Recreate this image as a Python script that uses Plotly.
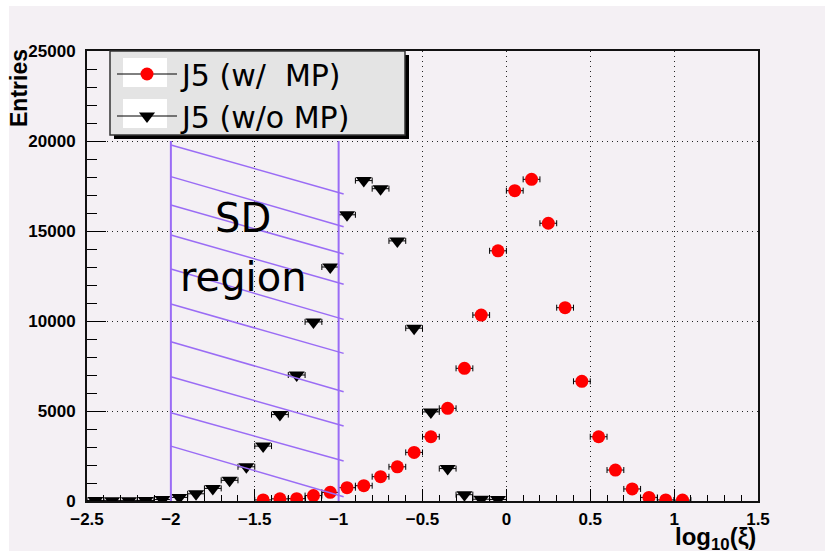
import plotly.graph_objects as go

# ---- data ----
x_wo = [-2.45, -2.35, -2.25, -2.15, -2.05, -1.95, -1.85, -1.75, -1.65, -1.55,
        -1.45, -1.35, -1.25, -1.15, -1.05, -0.95, -0.85, -0.75, -0.65, -0.55,
        -0.45, -0.35, -0.25, -0.15, -0.05]
y_wo = [30, 20, 20, 30, 80, 200, 400, 700, 1150, 1900,
        3050, 4800, 7000, 9950, 13000, 15900, 17800, 17350, 14450, 9600,
        4950, 1800, 350, 100, 80]

x_w = [-1.45, -1.35, -1.25, -1.15, -1.05, -0.95, -0.85, -0.75, -0.65, -0.55,
       -0.45, -0.35, -0.25, -0.15, -0.05, 0.05, 0.15, 0.25, 0.35, 0.45,
       0.55, 0.65, 0.75, 0.85, 0.95, 1.05]
y_w = [60, 120, 130, 300, 480, 740, 850, 1350, 1900, 2700,
       3570, 5150, 7370, 10330, 13900, 17240, 17870, 15430, 10740, 6650,
       3570, 1720, 670, 200, 60, 50]

half_bin = 0.05

# SD region (hatched band)
sd_x = [-2.0, -1.0]
sd_top = 20000
hatch_y_left = [19780, 18020, 16440, 14780, 12890, 10940, 8850, 6900, 4900, 3050]
hatch_y_right = [17060, 15240, 13720, 12040, 10090, 8200, 6070, 4170, 2220, 240]

names = ["J5 (w/&nbsp;&nbsp;MP)", "J5 (w/o MP)"]

BG = "#f4f0f4"
PURPLE = "#9a6cf5"
W, H = 825, 551
L, R, T, B = 87, 758, 51, 501


def px_x(p):
    return (p - L) / (R - L)


def px_y(p):
    return (B - p) / (B - T)


fig = go.Figure()

fig.add_trace(go.Scatter(
    x=x_wo, y=y_wo, mode="markers", showlegend=False,
    marker=dict(symbol="triangle-down", color="black", size=14),
    error_x=dict(type="constant", value=half_bin, color="black", thickness=1, width=3),
))
fig.add_trace(go.Scatter(
    x=x_w, y=y_w, mode="markers", showlegend=False,
    marker=dict(symbol="circle", color="#ff0000", size=13),
    error_x=dict(type="constant", value=half_bin, color="black", thickness=1, width=3),
))

# legend-only entries (line through marker, as in the original)
fig.add_trace(go.Scatter(
    x=[None], y=[None], mode="lines+markers", name=names[0],
    line=dict(color="black", width=1),
    marker=dict(symbol="circle", color="#ff0000", size=13),
))
fig.add_trace(go.Scatter(
    x=[None], y=[None], mode="lines+markers", name=names[1],
    line=dict(color="black", width=1),
    marker=dict(symbol="triangle-down", color="black", size=14),
))

shapes = []
# white strips on the top and left edges of the canvas
shapes.append(dict(type="rect", xref="paper", yref="paper",
                   x0=px_x(0), x1=px_x(9), y0=px_y(W), y1=px_y(0),
                   fillcolor="white", line=dict(width=0), layer="below"))
shapes.append(dict(type="rect", xref="paper", yref="paper",
                   x0=px_x(0), x1=px_x(W), y0=px_y(6), y1=px_y(0),
                   fillcolor="white", line=dict(width=0), layer="below"))

# SD region boundaries
for xv in sd_x:
    shapes.append(dict(type="line", xref="x", yref="y", x0=xv, x1=xv, y0=0, y1=sd_top,
                       line=dict(color=PURPLE, width=2)))
# hatch lines
for yl, yr in zip(hatch_y_left, hatch_y_right):
    shapes.append(dict(type="line", xref="x", yref="y", x0=sd_x[0], x1=sd_x[1] + 0.03,
                       y0=yl, y1=yr, line=dict(color=PURPLE, width=1.5)))

# legend box with shadow (ROOT style)
shapes.append(dict(type="rect", xref="paper", yref="paper",
                   x0=px_x(114), x1=px_x(409), y0=px_y(139), y1=px_y(55),
                   fillcolor="black", line=dict(width=0), layer="above"))
shapes.append(dict(type="rect", xref="paper", yref="paper",
                   x0=px_x(110), x1=px_x(405), y0=px_y(135), y1=px_y(51),
                   fillcolor="#e4e4e4", line=dict(color="#333", width=1.5), layer="above"))
for (a, b) in [(58, 87), (99, 128)]:
    shapes.append(dict(type="rect", xref="paper", yref="paper",
                       x0=px_x(123), x1=px_x(167), y0=px_y(b), y1=px_y(a),
                       fillcolor="white", line=dict(width=0), layer="above"))

annotations = [
    dict(text="SD", x=-1.57, y=15720, xref="x", yref="y", showarrow=False,
         font=dict(family="DejaVu Sans", size=40, color="black")),
    dict(text="region", x=-1.57, y=12450, xref="x", yref="y", showarrow=False,
         font=dict(family="DejaVu Sans", size=40, color="black")),
    dict(text="Entries", textangle=-90, x=px_x(19), y=px_y(47), xref="paper", yref="paper",
         xanchor="center", yanchor="top", showarrow=False,
         font=dict(family="Liberation Sans", size=23, color="black", weight="bold")),
    dict(text="log<sub>10</sub>(ξ)", x=1.0, y=px_y(521), xref="paper", yref="paper",
         xanchor="right", yanchor="top", showarrow=False,
         font=dict(family="Liberation Sans", size=24, color="black", weight="bold")),
]

tickfont = dict(family="Liberation Sans", size=17, color="black", weight="bold")
grid = dict(showgrid=True, gridcolor="#222", gridwidth=1, griddash="1px,4px")

fig.update_layout(
    width=W, height=H,
    margin=dict(l=L, r=W - R, t=T, b=H - B),
    paper_bgcolor=BG, plot_bgcolor=BG,
    shapes=shapes, annotations=annotations,
    legend=dict(x=px_x(112), y=px_y(48), xanchor="left", yanchor="top",
                bgcolor="rgba(0,0,0,0)", borderwidth=0,
                font=dict(family="DejaVu Sans", size=30, color="black"),
                itemwidth=60, tracegroupgap=0),
    xaxis=dict(range=[-2.5, 1.5], dtick=0.5, tick0=0, ticks="inside", ticklen=12,
               tickwidth=1, tickcolor="black", showline=True, linecolor="#111",
               linewidth=2, mirror=True, zeroline=False, tickfont=tickfont,
               ticklabelstandoff=2,
               minor=dict(dtick=0.1, ticks="inside", ticklen=6, tickcolor="black", showgrid=False),
               **grid),
    yaxis=dict(range=[0, 25000], dtick=5000, ticks="inside", ticklen=19,
               tickwidth=1, tickcolor="black", showline=True, linecolor="#111",
               linewidth=2, mirror=True, zeroline=False, tickfont=tickfont,
               tickformat="d", ticklabelstandoff=6,
               minor=dict(dtick=1000, ticks="inside", ticklen=10, tickcolor="black", showgrid=False),
               **grid),
)

fig.write_html("out.html")
